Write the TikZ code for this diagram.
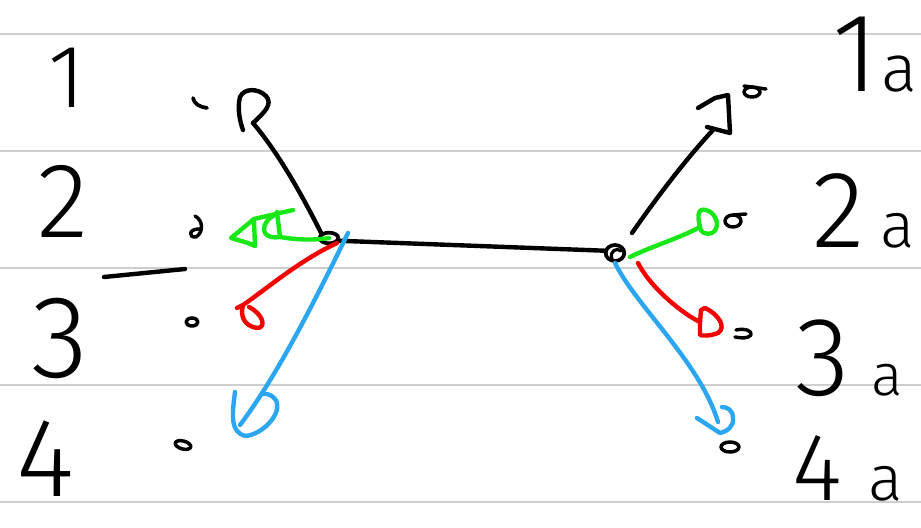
\documentclass[tikz,border=0pt]{standalone}
\usepackage{fontspec}
\newfontfamily\hand{Fira Sans Light}
\usetikzlibrary{shapes.geometric}
\definecolor{ruleGray}{RGB}{206,206,206}
\definecolor{penGreen}{RGB}{24,232,24}
\definecolor{penRed}{RGB}{244,0,0}
\definecolor{penBlue}{RGB}{44,166,240}
\begin{document}
\begin{tikzpicture}[x=0.75pt,y=-0.75pt,
  pen/.style={line width=3.3pt,line cap=round,line join=round},
  ink/.style={pen,draw=black},
  grn/.style={pen,draw=penGreen},
  rd/.style={pen,draw=penRed},
  blu/.style={pen,draw=penBlue},
  ruling/.style={draw=ruleGray,line width=2pt},
  dig/.style={inner sep=0pt,anchor=base,font=\hand\fontsize{#1}{#1}\selectfont},
  hub/.style={ink,ellipse,inner sep=0pt,line width=2.8pt}
]
\useasboundingbox (0,0) rectangle (921,528);
\fill[white] (0,0) rectangle (921,528);

% ruled paper
\foreach \y in {34,151,268,385,502} \draw[ruling] (0,\y) -- (921,\y);

% row numbers, left column
\node[dig=67] (n1) at (67,108) {1};
\node[dig=80] (n2) at (63,237) {2};
\node[dig=88] (n3) at (60,377) {3};
\node[dig=84] (n4) at (46,496) {4};
\draw[ink] (104,277) -- (185,269);

% row labels, right column
\node[dig=84,anchor=base west] (n1a) at (832,92) {1\hspace{2pt}{\fontsize{50}{50}\selectfont a}};
\node[dig=82,anchor=base west] (n2a) at (812,247) {2\hspace{12pt}{\fontsize{48}{48}\selectfont a}};
\node[dig=84,anchor=base west] (n3a) at (795,395) {3\hspace{16pt}{\fontsize{44}{44}\selectfont a}};
\node[dig=72,anchor=base west] (n4a) at (792,500) {4\hspace{20pt}{\fontsize{48}{48}\selectfont a}};

% the two junctions and the link between them
\node[hub,minimum width=14pt,minimum height=8pt] (hubL) at (329,238) {};
\node[hub,minimum width=14pt,minimum height=12pt] (hubR) at (615,253) {};
\draw[ink,line width=2.4pt] (612,259) .. controls (609,251) and (617,247) .. (621,251);
\draw[ink] (hubL.-15) -- (hubR.168);

% left fan: end points
\coordinate (pL1) at (253,123);
\coordinate (pL2) at (280,237);
\coordinate (pL3) at (243,305);
\coordinate (sL4) at (348,233);
\coordinate (pL4) at (240,425);

% left fan: black
\draw[ink] (hubL.north west) .. controls (306,203) and (281,156) .. (pL1);
\draw[ink] (pL1) .. controls (265,112) and (273,104) .. (266,96)
  .. controls (258,88) and (244,88) .. (240,97)
  .. controls (237,108) and (240,122) .. (243,130);
% left fan: green
\draw[grn] (hubL.center) .. controls (310,241) and (292,239) .. (pL2) -- (277,212);
\draw[grn] (293,210) -- (254,219) -- (231,238) -- (248,243) -- (255,246) -- (254,221);
\draw[grn] (277,214) .. controls (266,218) and (262,228) .. (265,233) .. controls (268,237) and (272,238) .. (pL2);
% left fan: red
\draw[rd] (hubL.south east) .. controls (300,260) and (265,290) .. (pL3);
\draw[rd] (237,308) -- (pL3) .. controls (240,316) and (244,326) .. (257,328)
  .. controls (267,328) and (263,314) .. (249,307);
% left fan: blue
\draw[blu] (sL4) .. controls (320,290) and (280,372) .. (pL4);
\draw[blu] (235,392) .. controls (232,415) and (230,433) .. (246,436)
  .. controls (262,434) and (280,416) .. (277,403)
  .. controls (275,396) and (268,393) .. (263,394);

% left small marks
\draw[ink,line width=2.8pt] (193,98) .. controls (194,104) and (200,107) .. (207,108);
\draw[ink,line width=2.6pt] (195,216) .. controls (203,220) and (204,232) .. (196,237)
  .. controls (188,238) and (188,228) .. (201,229);
\draw[ink,line width=2.6pt] (192,322) ellipse [x radius=6, y radius=4];
\draw[ink,line width=2.6pt,rotate around={-15:(183,445)}] (183,445) ellipse [x radius=8, y radius=4];

% right fan: end points
\coordinate (sR1) at (632,233);
\coordinate (pR1) at (713,130);
\coordinate (sR2) at (630,257);
\coordinate (pR2) at (700,227);
\coordinate (sR3) at (638,263);
\coordinate (pR3) at (700,322);
\coordinate (pR4) at (718,422);

% right fan: black
\draw[ink] (sR1) .. controls (655,200) and (685,160) .. (pR1);
\draw[ink] (698,108) -- (715,98) -- (728,95) -- (730,133) -- (707,127);
\draw[ink,line width=2.6pt] (752,92) ellipse [x radius=8, y radius=5];
\draw[ink,line width=2.6pt] (744,86) -- (766,89);
% right fan: green
\draw[grn] (sR2) .. controls (650,247) and (680,238) .. (pR2);
\draw[grn] (pR2) .. controls (697,215) and (698,208) .. (706,210)
  .. controls (717,213) and (721,228) .. (712,233)
  .. controls (705,235) and (700,232) .. (pR2);
\draw[ink,line width=2.6pt] (733,221) ellipse [x radius=8, y radius=6];
\draw[ink,line width=2.6pt] (733,215) -- (746,214);
% right fan: red
\draw[rd] (sR3) .. controls (652,290) and (685,315) .. (pR3);
\draw[rd] (pR3) -- (701,310) -- (705,308) .. controls (718,314) and (727,327) .. (718,333)
  .. controls (710,336) and (703,336) .. (700,335) -- (pR3);
\draw[ink,line width=2.6pt] (736,330) .. controls (746,328) and (752,331) .. (751,335)
  .. controls (748,339) and (740,338) .. (735,337);
% right fan: blue
\draw[blu] (hubR.south) .. controls (635,305) and (700,362) .. (pR4);
\draw[blu] (697,418) -- (720,433) .. controls (728,431) and (734,426) .. (733,418)
  .. controls (733,410) and (727,407) .. (722,407);
\draw[ink,line width=2.6pt] (730,447) ellipse [x radius=9, y radius=5];
\end{tikzpicture}
\end{document}
